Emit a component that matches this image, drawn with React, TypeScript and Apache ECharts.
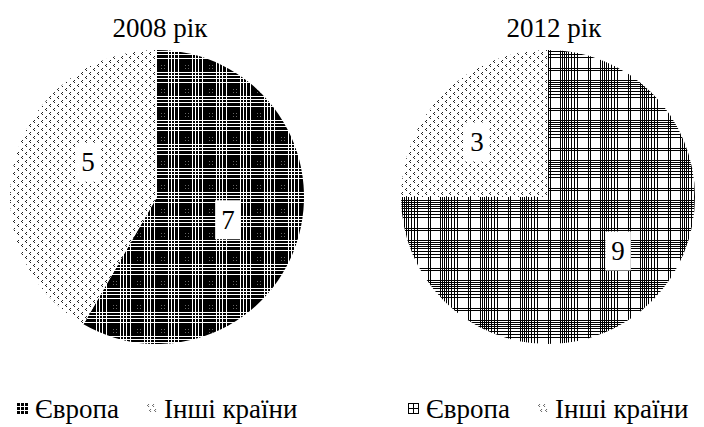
import React, { useEffect, useRef } from 'react';
import * as echarts from 'echarts';

const categories = ['Європа', 'Інші країни'];
const titles = ['2008 рік', '2012 рік'];
const values2008 = [7, 5];
const values2012 = [9, 3];

const FONT = '"Liberation Serif", "Times New Roman", serif';

function makeCanvas(w: number, h: number, draw: (ctx: CanvasRenderingContext2D) => void) {
  const c = document.createElement('canvas');
  c.width = w;
  c.height = h;
  const ctx = c.getContext('2d') as CanvasRenderingContext2D;
  draw(ctx);
  return c;
}
function makeTile(w: number, h: number, draw: (ctx: CanvasRenderingContext2D) => void) {
  const c = makeCanvas(w, h, draw);
  return { image: c, repeat: 'repeat', imageWidth: w, imageHeight: h } as any;
}
function makeIcon(w: number, h: number, draw: (ctx: CanvasRenderingContext2D) => void) {
  return 'image://' + makeCanvas(w, h, draw).toDataURL();
}

export default function App() {
  const ref = useRef<HTMLDivElement>(null);
  useEffect(() => {
    document.body.style.margin = '0';
    const darkPlaid = makeTile(24, 24, (ctx) => {
      ctx.fillStyle = '#000';
      ctx.fillRect(0, 0, 24, 24);
      ctx.fillStyle = '#fff';
      [0, 3, 6, 10].forEach((p) => {
        ctx.fillRect(p, 0, 1, 24);
        ctx.fillRect(0, p, 24, 1);
      });
      ctx.fillStyle = '#666';
      [[17, 17], [20, 20], [17, 20], [20, 17]].forEach(([x, y]) => ctx.fillRect(x, y, 1, 1));
    });
    const lightGrid = makeTile(40, 40, (ctx) => {
      ctx.fillStyle = '#fff';
      ctx.fillRect(0, 0, 40, 40);
      ctx.fillStyle = '#000';
      [0, 2, 4, 6, 8, 11, 14, 17, 28, 30].forEach((p) => {
        ctx.fillRect(p, 0, 1, 40);
        ctx.fillRect(0, p, 40, 1);
      });
    });
    const dots = makeTile(8, 8, (ctx) => {
      ctx.fillStyle = '#fff';
      ctx.fillRect(0, 0, 8, 8);
      ctx.fillStyle = '#222';
      [[2, 0], [1, 1], [2, 2], [6, 4], [5, 5], [6, 6]].forEach(([x, y]) => ctx.fillRect(x, y, 1, 1));
    });

    const iconDark = makeIcon(11, 11, (ctx) => {
      ctx.fillStyle = '#000';
      ctx.fillRect(0, 0, 11, 11);
      ctx.fillStyle = '#fff';
      [3, 7].forEach((p) => {
        ctx.fillRect(p, 0, 1, 11);
        ctx.fillRect(0, p, 11, 1);
      });
    });
    const iconLight = makeIcon(11, 11, (ctx) => {
      ctx.fillStyle = '#fff';
      ctx.fillRect(0, 0, 11, 11);
      ctx.fillStyle = '#000';
      [0, 5, 10].forEach((p) => {
        ctx.fillRect(p, 0, 1, 11);
        ctx.fillRect(0, p, 11, 1);
      });
    });
    const iconDots = makeIcon(11, 11, (ctx) => {
      ctx.fillStyle = '#fff';
      ctx.fillRect(0, 0, 11, 11);
      ctx.fillStyle = '#666';
      [[2, 1], [1, 2], [2, 3], [7, 1], [6, 2], [7, 3], [4, 6], [3, 7], [4, 8], [9, 6], [8, 7], [9, 8]].forEach(([x, y]) => ctx.fillRect(x, y, 1, 1));
    });

    const chart = echarts.init(ref.current!, null, { renderer: 'svg' });
    const labelStyle = {
      show: true,
      position: 'inside',
      formatter: '{c}',
      fontFamily: FONT,
      fontSize: 27,
      color: '#000',
      backgroundColor: '#fff',
      padding: [7, 6, 5, 6],
    };
    const legendCommon = {
      orient: 'horizontal',
      top: 390,
      itemWidth: 11,
      itemHeight: 11,
      itemGap: 27,
      textStyle: { fontFamily: FONT, fontSize: 27, color: '#000', padding: [0, 0, 0, 2] },
      selectedMode: false,
    };
    const off2008 = [[-3, 3], [5, -15]];
    const off2012 = [[16, 0], [-17, -1]];
    chart.setOption({
      animation: false,
      backgroundColor: '#fff',
      title: [
        { text: titles[0], left: 155, top: 9, textAlign: 'center', textStyle: { fontFamily: FONT, fontSize: 27, fontWeight: 'normal', color: '#000' } },
        { text: titles[1], left: 549, top: 9, textAlign: 'center', textStyle: { fontFamily: FONT, fontSize: 27, fontWeight: 'normal', color: '#000' } },
      ],
      legend: [
        {
          ...legendCommon,
          left: 12,
          data: [
            { name: categories[0], icon: iconDark },
            { name: categories[1], icon: iconDots },
          ],
        },
        {
          ...legendCommon,
          left: 403,
          data: [
            { name: categories[0], icon: iconLight },
            { name: categories[1], icon: iconDots },
          ],
        },
      ],
      series: [
        {
          type: 'pie',
          center: [157, 197],
          radius: 147,
          startAngle: 90,
          clockwise: true,
          label: labelStyle,
          labelLine: { show: false },
          labelLayout: (p: any) => ({ dx: off2008[p.dataIndex][0], dy: off2008[p.dataIndex][1] }),
          emphasis: { disabled: true },
          data: categories.map((n, i) => ({ name: n, value: values2008[i], itemStyle: { color: i === 0 ? darkPlaid : dots } })),
        },
        {
          type: 'pie',
          center: [548, 197],
          radius: 147,
          startAngle: 90,
          clockwise: true,
          label: labelStyle,
          labelLine: { show: false },
          labelLayout: (p: any) => ({ dx: off2012[p.dataIndex][0], dy: off2012[p.dataIndex][1] }),
          emphasis: { disabled: true },
          data: categories.map((n, i) => ({ name: n, value: values2012[i], itemStyle: { color: i === 0 ? lightGrid : dots } })),
        },
      ],
    });
    return () => chart.dispose();
  }, []);
  return <div ref={ref} style={{ position: 'fixed', left: 0, top: 0, width: 704, height: 427 }} />;
}
